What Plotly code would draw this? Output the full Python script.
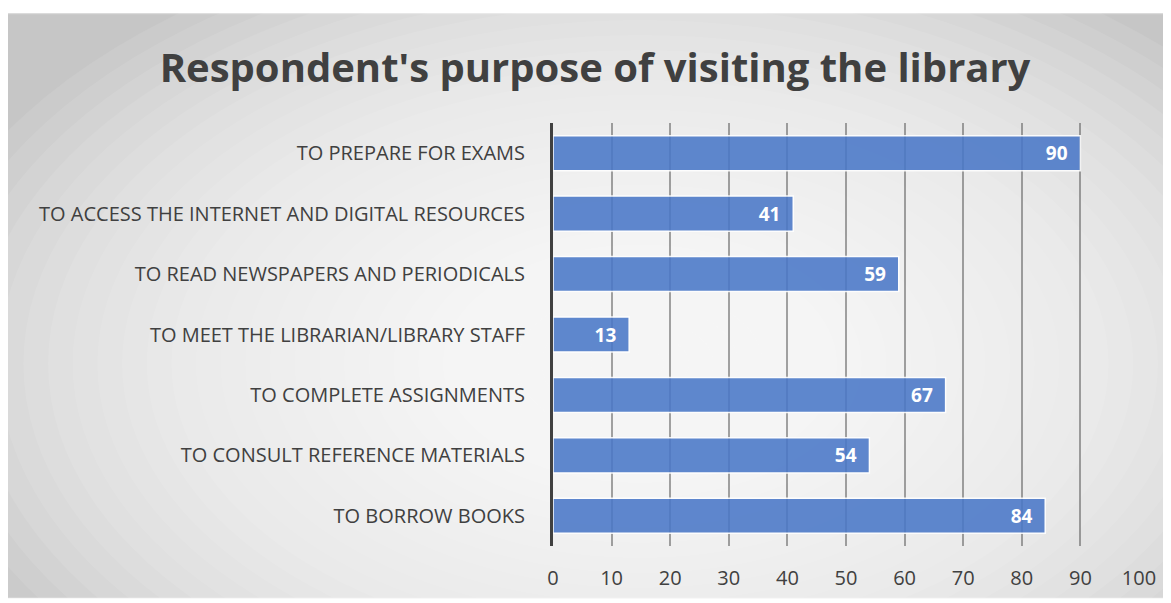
import plotly.graph_objects as go

categories = [
    "TO BORROW BOOKS",
    "TO CONSULT REFERENCE MATERIALS",
    "TO COMPLETE ASSIGNMENTS",
    "TO MEET THE LIBRARIAN/LIBRARY STAFF",
    "TO READ NEWSPAPERS AND PERIODICALS",
    "TO ACCESS THE INTERNET AND DIGITAL RESOURCES",
    "TO PREPARE FOR EXAMS",
]
values = [84, 54, 67, 13, 59, 41, 90]
x_ticks = [0, 10, 20, 30, 40, 50, 60, 70, 80, 90, 100]

OFF = 8  # page body margin
W, H = 1171 - OFF, 603 - OFF
L, R, T, B = 553 - OFF, 32, 123 - OFF, 54 - OFF
pw, ph = W - L - R, H - T - B

def px_x(p):
    return (p - OFF - L) / pw

def px_y(p):
    return (H - B - (p - OFF)) / ph

FONT = "Open Sans"

fig = go.Figure()
fig.add_trace(go.Bar(
    y=categories, x=values, orientation="h",
    marker=dict(color="rgb(74,120,200)", opacity=0.88,
                line=dict(color="white", width=1.5)),
    width=0.58,
    text=[f"{v}\u00a0\u00a0" for v in values],
    textposition="inside", insidetextanchor="end",
    textfont=dict(family=FONT, size=19, color="white", weight="bold"),
    cliponaxis=False,
))

shapes = []
shapes.append(dict(type="rect", xref="paper", yref="paper", layer="below",
                   x0=px_x(7), x1=px_x(1175), y0=px_y(610), y1=px_y(11),
                   fillcolor="#c6c6c6", line=dict(color="#d0d0d0", width=1)))
cx, cy = 640, 370
n = 30
for i in range(n):
    f = 1 - i / n
    rx, ry = 740 * f, 460 * f
    shapes.append(dict(type="circle", xref="paper", yref="paper", layer="below",
                       x0=px_x(cx - rx), x1=px_x(cx + rx),
                       y0=px_y(cy + ry), y1=px_y(cy - ry),
                       fillcolor="white", opacity=0.09, line=dict(width=0)))
fig.update_layout(shapes=shapes)

fig.update_layout(
    width=W, height=H,
    margin=dict(l=L, r=R, t=T, b=B),
    paper_bgcolor="white",
    plot_bgcolor="rgba(0,0,0,0)",
    title=dict(text="Respondent's purpose of visiting the library",
               x=(595 - OFF) / W, xanchor="center", y=1 - (68 - OFF) / H, yanchor="middle",
               font=dict(family=FONT, size=40, color="#404040", weight="bold")),
    showlegend=False,
    xaxis=dict(range=[0, 100], tickvals=x_ticks, showgrid=True,
               gridcolor="rgba(90,90,90,0.55)", gridwidth=2,
               zeroline=False, showline=False,
               ticks="", ticklabelstandoff=18,
               tickfont=dict(family=FONT, size=20, color="#404040")),
    yaxis=dict(categoryorder="array", categoryarray=categories,
               range=[-0.5, 6.5], showgrid=False, zeroline=False,
               showline=True, linecolor="#404040", linewidth=3,
               ticks="", ticklabelstandoff=21,
               tickfont=dict(family=FONT, size=20, color="#404040")),
)

fig.write_html("out.html")
